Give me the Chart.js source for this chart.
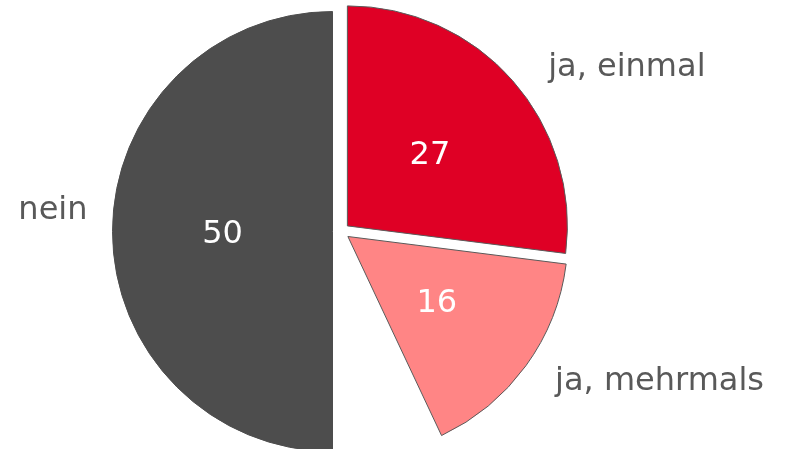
<!DOCTYPE html>
<html>
<head>
<meta charset="utf-8">
<script src="https://cdn.jsdelivr.net/npm/chart.js@4/dist/chart.umd.min.js"></script>
<style>
  html, body { margin: 0; padding: 0; background: #fff; }
  #wrap { width: 788px; height: 449px; position: relative; }
</style>
</head>
<body>
<div id="wrap"><canvas id="pie"></canvas></div>
<script>
// values (share in %, the 7 % gap is left empty)
const categories = ['ja, einmal', 'ja, mehrmals', '', 'nein'];
const shares = [27, 16, 7, 50];
const sliceColors = ['#DF0025', '#FF8585', 'rgba(0,0,0,0)', '#4D4D4D'];

const FONT = '"DejaVu Sans", Verdana, sans-serif';
const EXPLODE = 8.5;

// push each slice out from the centre along its middle angle
// (done here instead of the built-in offset, which also grows a half-circle slice)
const explodePlugin = {
  id: 'explode',
  afterDatasetUpdate(chart, args) {
    args.meta.data.forEach(arc => {
      const mid = (arc.startAngle + arc.endAngle) / 2;
      arc.x += Math.cos(mid) * EXPLODE;
      arc.y += Math.sin(mid) * EXPLODE;
    });
  }
};

// outside labels need a small nudge, like the original layout
const labelNudge = { 'ja, einmal': [17, 4], 'ja, mehrmals': [9, 1], 'nein': [0, -21] };

const labelPlugin = {
  id: 'sliceLabels',
  afterDatasetsDraw(chart) {
    const ctx = chart.ctx;
    const meta = chart.getDatasetMeta(0);
    ctx.save();
    ctx.font = '32px ' + FONT;
    ctx.textBaseline = 'middle';
    meta.data.forEach((arc, i) => {
      const name = categories[i];
      if (!name) return;
      const mid = (arc.startAngle + arc.endAngle) / 2;
      const r = arc.outerRadius;
      const cos = Math.cos(mid), sin = Math.sin(mid);
      // value inside
      ctx.fillStyle = '#FFFFFF';
      ctx.textAlign = 'center';
      ctx.fillText(String(shares[i]), arc.x + cos * r * 0.5, arc.y + sin * r * 0.5 + 3);
      // category outside
      const d = r + 25;
      const n = labelNudge[name] || [0, 0];
      ctx.fillStyle = '#595959';
      ctx.textAlign = cos >= 0 ? 'left' : 'right';
      ctx.fillText(name, arc.x + cos * d + n[0], arc.y + sin * d + n[1]);
    });
    ctx.restore();
  }
};

new Chart(document.getElementById('pie'), {
  type: 'pie',
  data: {
    labels: categories,
    datasets: [{
      data: shares,
      backgroundColor: sliceColors,
      borderColor: ['#5A5A5A', '#5A5A5A', 'rgba(0,0,0,0)', '#4D4D4D'],
      borderWidth: 1,
      radius: 220,
      hoverOffset: 0
    }]
  },
  options: {
    responsive: true,
    maintainAspectRatio: false,
    animation: false,
    events: [],
    layout: { padding: { left: 0, right: 106, top: 14, bottom: 0 } },
    plugins: {
      legend: { display: false },
      tooltip: { enabled: false }
    }
  },
  plugins: [explodePlugin, labelPlugin]
});
</script>
</body>
</html>
